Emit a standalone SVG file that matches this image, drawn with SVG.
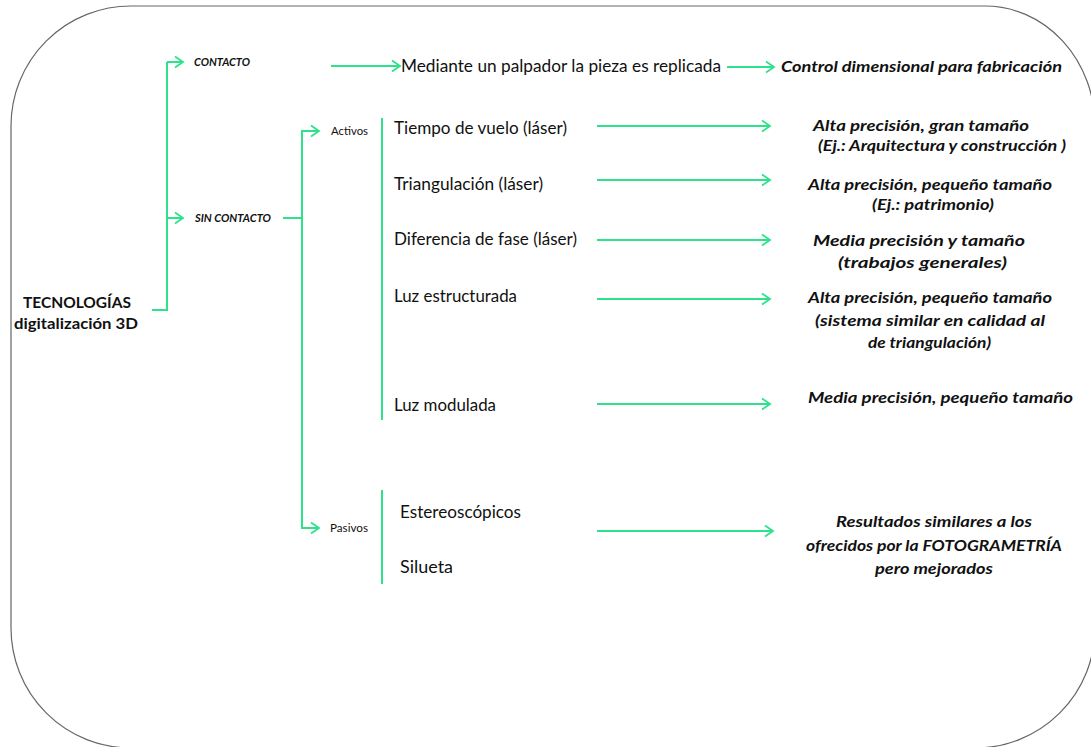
<svg xmlns="http://www.w3.org/2000/svg" width="1091" height="747" viewBox="0 0 1091 747">
<defs>
<marker id="ah" markerUnits="userSpaceOnUse" markerWidth="14" markerHeight="14" refX="11" refY="7" orient="auto">
<path d="M3,1.5 L11,7 L3,12.5" fill="none" stroke="#2de28b" stroke-width="1.8"/>
</marker>
<style>
.g{fill:none;stroke:#2de28b;stroke-width:2}
.a{fill:none;stroke:#2de28b;stroke-width:2;marker-end:url(#ah)}
.t{font-family:Lato,"Open Sans",sans-serif;fill:#111}
.n{font-size:16.5px}
.s{font-size:11px}
.bi{font-weight:bold;font-style:italic;font-size:16px}
.cat{font-weight:bold;font-style:italic;font-size:11px}
.c{text-anchor:middle}
</style>
</defs>
<path d="M131,6 H985 A110,120 0 0 1 1095,126 V628 A120,120 0 0 1 975,748 H131 A120,120 0 0 1 11,628 V126 A120,120 0 0 1 131,6 Z" fill="#fff" stroke="#666" stroke-width="1.2"/>

<g id="connectors">
<polyline class="g" points="152,310 167,310 167,62"/>
<line class="a" x1="167" y1="62" x2="183" y2="62"/>
<line class="a" x1="167" y1="218" x2="183" y2="218"/>
<line class="a" x1="331" y1="66" x2="400" y2="66"/>
<line class="a" x1="727" y1="67" x2="774" y2="67"/>
<line class="g" x1="283" y1="218" x2="302" y2="218"/>
<line class="g" x1="302" y1="131" x2="302" y2="528"/>
<line class="a" x1="301" y1="131" x2="319" y2="131"/>
<line class="a" x1="301" y1="528" x2="319" y2="528"/>
<line class="g" x1="382" y1="118" x2="382" y2="420"/>
<line class="g" x1="382" y1="490" x2="382" y2="584"/>
<line class="a" x1="597" y1="126" x2="770" y2="126"/>
<line class="a" x1="597" y1="180" x2="770" y2="180"/>
<line class="a" x1="597" y1="240" x2="770" y2="240"/>
<line class="a" x1="597" y1="299" x2="770" y2="299"/>
<line class="a" x1="597" y1="404" x2="770" y2="404"/>
<line class="a" x1="597" y1="531" x2="773" y2="531"/>
</g>

<g id="root">
<text class="t c" x="77" y="308" style="font-weight:bold;font-size:16px" textLength="108" lengthAdjust="spacingAndGlyphs">TECNOLOGÍAS</text>
<text class="t c" x="76" y="329" style="font-weight:bold;font-size:16px" textLength="124" lengthAdjust="spacingAndGlyphs">digitalización 3D</text>
</g>

<g id="contacto">
<text class="t cat" x="194" y="66" textLength="56" lengthAdjust="spacingAndGlyphs">CONTACTO</text>
</g>
<g id="mediante">
<text class="t n" x="401" y="72" textLength="320" lengthAdjust="spacingAndGlyphs">Mediante un palpador la pieza es replicada</text>
</g>
<g id="control">
<text class="t bi" x="781" y="72" textLength="281" lengthAdjust="spacingAndGlyphs">Control dimensional para fabricación</text>
</g>

<g id="sincontacto">
<text class="t cat" x="195" y="222" textLength="76" lengthAdjust="spacingAndGlyphs">SIN CONTACTO</text>
</g>

<g id="activos">
<text class="t s" x="331" y="135" textLength="37" lengthAdjust="spacingAndGlyphs">Activos</text>
</g>
<g id="pasivos">
<text class="t s" x="330" y="532" textLength="38" lengthAdjust="spacingAndGlyphs">Pasivos</text>
</g>

<g id="tiempo">
<text class="t n" x="394" y="134" textLength="173" lengthAdjust="spacingAndGlyphs">Tiempo de vuelo (láser)</text>
</g>
<g id="triangulacion">
<text class="t n" x="394" y="190" textLength="149" lengthAdjust="spacingAndGlyphs">Triangulación (láser)</text>
</g>
<g id="diferencia">
<text class="t n" x="394" y="245" textLength="183" lengthAdjust="spacingAndGlyphs">Diferencia de fase (láser)</text>
</g>
<g id="luzestructurada">
<text class="t n" x="394" y="302" textLength="123" lengthAdjust="spacingAndGlyphs">Luz estructurada</text>
</g>
<g id="luzmodulada">
<text class="t n" x="394" y="411" textLength="102" lengthAdjust="spacingAndGlyphs">Luz modulada</text>
</g>
<g id="estereoscopicos">
<text class="t n" x="400" y="518" textLength="121" lengthAdjust="spacingAndGlyphs">Estereoscópicos</text>
</g>
<g id="silueta">
<text class="t n" x="400" y="573" textLength="53" lengthAdjust="spacingAndGlyphs">Silueta</text>
</g>

<g id="res-tiempo">
<text class="t bi" x="813" y="131" textLength="216" lengthAdjust="spacingAndGlyphs">Alta precisión, gran tamaño</text>
<text class="t bi" x="818" y="151" textLength="248" lengthAdjust="spacingAndGlyphs">(Ej.: Arquitectura y construcción )</text>
</g>
<g id="res-triangulacion">
<text class="t bi" x="808" y="190" textLength="244" lengthAdjust="spacingAndGlyphs">Alta precisión, pequeño tamaño</text>
<text class="t bi" x="872" y="210" textLength="122" lengthAdjust="spacingAndGlyphs">(Ej.: patrimonio)</text>
</g>
<g id="res-diferencia">
<text class="t bi" x="813" y="246" textLength="212" lengthAdjust="spacingAndGlyphs">Media precisión y tamaño</text>
<text class="t bi" x="838" y="268" textLength="169" lengthAdjust="spacingAndGlyphs">(trabajos generales)</text>
</g>
<g id="res-luzestructurada">
<text class="t bi" x="808" y="303" textLength="244" lengthAdjust="spacingAndGlyphs">Alta precisión, pequeño tamaño</text>
<text class="t bi" x="815" y="326" textLength="230" lengthAdjust="spacingAndGlyphs">(sistema similar en calidad al</text>
<text class="t bi" x="868" y="348" textLength="123" lengthAdjust="spacingAndGlyphs">de triangulación)</text>
</g>
<g id="res-luzmodulada">
<text class="t bi" x="808" y="403" textLength="265" lengthAdjust="spacingAndGlyphs">Media  precisión, pequeño tamaño</text>
</g>
<g id="res-pasivos">
<text class="t bi" x="836" y="527" textLength="196" lengthAdjust="spacingAndGlyphs">Resultados similares a los</text>
<text class="t bi" x="806" y="551" textLength="256" lengthAdjust="spacingAndGlyphs">ofrecidos por la FOTOGRAMETRÍA</text>
<text class="t bi" x="875" y="574" textLength="118" lengthAdjust="spacingAndGlyphs">pero mejorados</text>
</g>
</svg>
